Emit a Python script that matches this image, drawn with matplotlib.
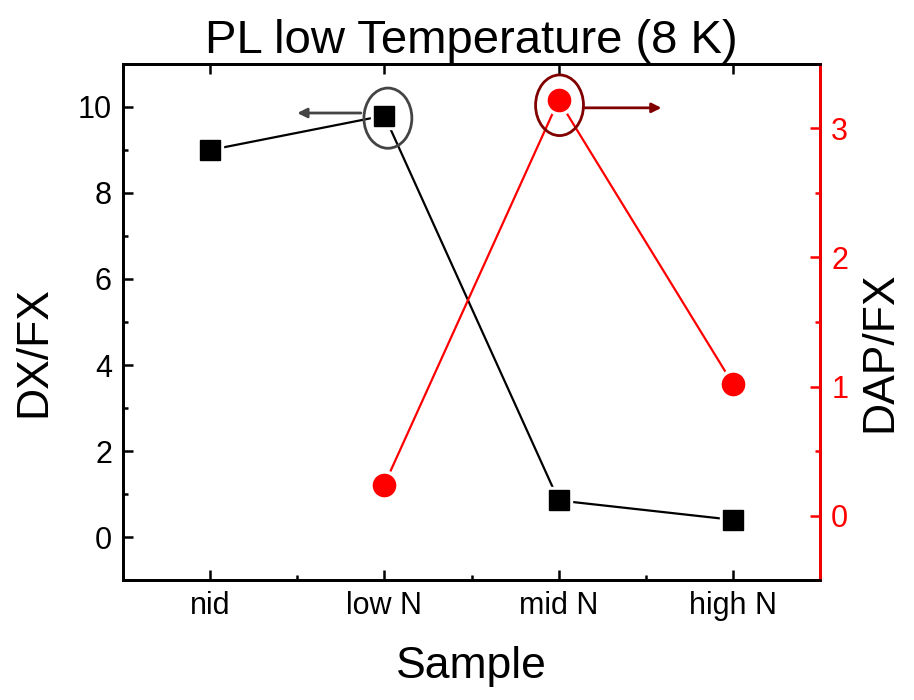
import matplotlib
matplotlib.use("Agg")
import matplotlib.pyplot as plt
from matplotlib.patches import Ellipse
from matplotlib.ticker import MultipleLocator, FixedLocator

plt.rcParams['font.family'] = ['Liberation Sans', 'DejaVu Sans']

samples = ["nid", "low N", "mid N", "high N"]
dx_fx = [9.0, 9.8, 0.85, 0.4]
dap_samples = ["low N", "mid N", "high N"]
dap_fx = [0.24, 3.22, 1.02]

xpos = {s: i + 1 for i, s in enumerate(samples)}

fig = plt.figure(figsize=(9.14, 7.0), dpi=100)
ax = fig.add_axes([0.1346, 0.1714, 0.7626, 0.7372])
ax2 = ax.twinx()

x1 = [xpos[s] for s in samples]
x2 = [xpos[s] for s in dap_samples]

# lines, then white halos (gap between line and marker), then markers
ax.plot(x1, dx_fx, color='black', lw=1.6, zorder=2)
ax.plot(x1, dx_fx, ls='none', marker='s', ms=19, markerfacecolor='white',
        markeredgecolor='white', zorder=2.5)
ax.plot(x1, dx_fx, ls='none', marker='s', ms=14,
        markerfacecolor='black', markeredgecolor='black', zorder=3)

ax2.plot(x2, dap_fx, color='#ff0000', lw=1.6, zorder=2)
ax2.plot(x2, dap_fx, ls='none', marker='o', ms=21, markerfacecolor='white',
         markeredgecolor='white', zorder=2.5)
ax2.plot(x2, dap_fx, ls='none', marker='o', ms=16,
         markerfacecolor='#ff0000', markeredgecolor='#ff0000', zorder=3)

ax.set_xlim(0.5, 4.5)
ax.set_ylim(-1, 11)
ax2.set_ylim(-0.5, 3.5)

ax.set_xticks(x1)
ax.set_xticklabels(samples)
ax.xaxis.set_minor_locator(FixedLocator([1.5, 2.5, 3.5]))
ax.yaxis.set_major_locator(MultipleLocator(2))
ax.yaxis.set_minor_locator(MultipleLocator(1))
ax2.yaxis.set_major_locator(MultipleLocator(1))
ax2.yaxis.set_minor_locator(MultipleLocator(0.5))

for a in (ax, ax2):
    for sp in a.spines.values():
        sp.set_linewidth(2.0)
ax2.spines['right'].set_color('#ff0000')

ax.tick_params(axis='both', which='major', direction='in', length=7, width=1.8,
               labelsize=22, pad=8)
ax.tick_params(axis='both', which='minor', direction='in', length=3.5, width=1.8)
ax.tick_params(axis='x', which='major', top=True)
ax.tick_params(axis='y', which='both', right=False)
ax2.tick_params(axis='y', which='major', direction='in', length=7, width=1.8,
                labelsize=22, colors='#ff0000', pad=8)
ax2.tick_params(axis='y', which='minor', direction='in', length=3.5, width=1.8,
                colors='#ff0000')

ax.set_xlabel("Sample", fontsize=32, labelpad=18)
ax.set_ylabel("DX/FX", fontsize=32)
ax2.set_ylabel("DAP/FX", fontsize=32)
ax.yaxis.set_label_coords(-0.099, 0.442)
ax2.yaxis.set_label_coords(1.056, 0.442)
ax.set_title("PL low Temperature (8 K)", fontsize=34, pad=8)

# annotation ellipses and arrows
e1 = Ellipse((xpos["low N"] + 0.02, dx_fx[1] - 0.06), 0.275, 1.40,
             fill=False, edgecolor='#444444', lw=2.0, zorder=4)
ax.add_patch(e1)
ax.annotate("", xy=(1.5, 9.86), xytext=(1.865, 9.86),
            arrowprops=dict(arrowstyle='-|>', color='#444444', lw=2.0,
                            mutation_scale=14, shrinkA=0, shrinkB=0))

e2 = Ellipse((xpos["mid N"] + 0.005, 3.18), 0.275, 0.47,
             fill=False, edgecolor='#800000', lw=2.0, zorder=4)
ax2.add_patch(e2)
ax2.annotate("", xy=(3.59, 3.16), xytext=(3.14, 3.16),
             arrowprops=dict(arrowstyle='-|>', color='#800000', lw=2.0,
                             mutation_scale=14, shrinkA=0, shrinkB=0))

fig.savefig("out.png", dpi=100)
